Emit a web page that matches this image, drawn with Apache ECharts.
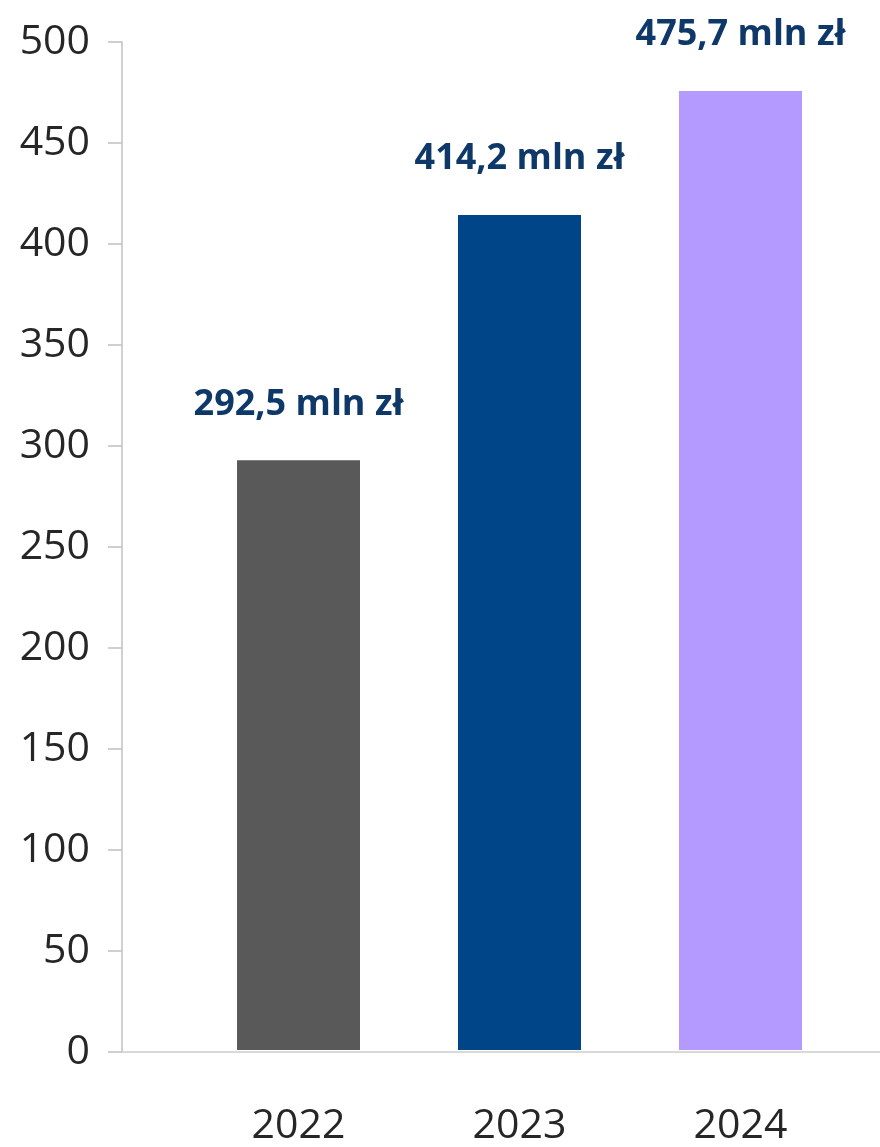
<!DOCTYPE html>
<html>
<head>
<meta charset="utf-8">
<script src="https://cdn.jsdelivr.net/npm/echarts@6/dist/echarts.min.js"></script>
<style>
html,body{margin:0;padding:0;background:#fff;}
#chart{width:880px;height:1147px;}
</style>
</head>
<body>
<div id="chart"></div>
<script>
const categories = ['2022', '2023', '2024'];
const values = [292.5, 414.2, 475.7];
const barColors = ['#595959', '#004587', '#b499ff'];
const valueLabels = ['292,5 mln zł', '414,2 mln zł', '475,7 mln zł'];
const yTicks = [0, 50, 100, 150, 200, 250, 300, 350, 400, 450, 500];

const chart = echarts.init(document.getElementById('chart'));
const yMin = yTicks[0], yMax = yTicks[yTicks.length - 1], yStep = yTicks[1] - yTicks[0];
const font = '"Open Sans", "Noto Sans", sans-serif';

chart.setOption({
  animation: false,
  backgroundColor: '#ffffff',
  grid: [
    { left: 122, right: 0, top: 42, bottom: 95 },
    { left: 188, width: 663, top: 42, bottom: 95 }
  ],
  xAxis: [
    {
      gridIndex: 0, type: 'category', data: [''],
      axisLine: { show: true, lineStyle: { color: '#d9d9d9', width: 2 } },
      axisTick: { show: false }, axisLabel: { show: false }, splitLine: { show: false }
    },
    {
      gridIndex: 1, type: 'category', data: categories,
      axisLine: { show: false }, axisTick: { show: false },
      axisLabel: { fontSize: 41, color: '#262626', fontFamily: font, margin: 56 }
    }
  ],
  yAxis: [
    {
      gridIndex: 0, type: 'value', min: yMin, max: yMax, interval: yStep,
      axisLine: { show: true, lineStyle: { color: '#c0c0c0', width: 1.5 } },
      axisTick: { show: true, length: 14, lineStyle: { color: '#c0c0c0', width: 1.5 } },
      axisLabel: { fontSize: 41, color: '#262626', fontFamily: font, margin: 32 },
      splitLine: { show: false }
    },
    {
      gridIndex: 1, type: 'value', min: yMin, max: yMax, interval: yStep, show: false
    }
  ],
  series: [{
    type: 'bar',
    xAxisIndex: 1, yAxisIndex: 1,
    barWidth: 123,
    data: values.map((v, i) => ({ value: v, itemStyle: { color: barColors[i] } })),
    label: {
      show: true, position: 'top', distance: 38,
      formatter: p => valueLabels[p.dataIndex],
      fontSize: 36, fontWeight: 'bold', color: '#0d3868', fontFamily: font, lineHeight: 36
    }
  }]
});
</script>
</body>
</html>
